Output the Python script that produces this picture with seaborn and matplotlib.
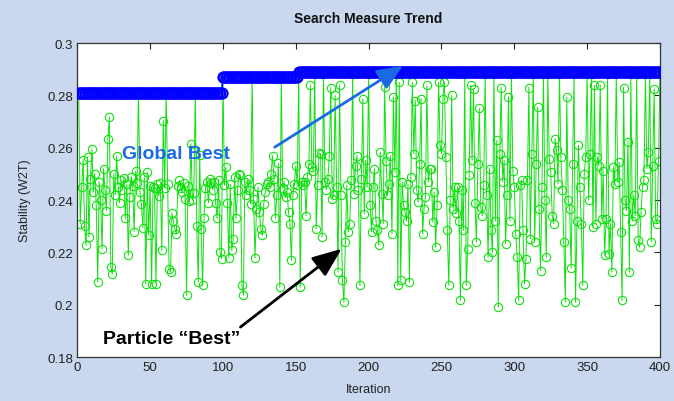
import numpy as np
import pandas as pd
import matplotlib
matplotlib.use("Agg")
import matplotlib.pyplot as plt
import seaborn as sns

# Stability (W2T) of the particle's own best at each iteration
particle_best = [
    0.2810, 0.2310, 0.2450, 0.2555, 0.2300, 0.2227, 0.2564, 0.2260, 0.2480, 0.2594,
    0.2430, 0.2500, 0.2380, 0.2087, 0.2470, 0.2400, 0.2214, 0.2520, 0.2440, 0.2360,
    0.2634, 0.2717, 0.2144, 0.2118, 0.2500, 0.2420, 0.2568, 0.2450, 0.2390, 0.2475,
    0.2440, 0.2485, 0.2330, 0.2460, 0.2189, 0.2410, 0.2490, 0.2455, 0.2280, 0.2510,
    0.2465, 0.2810, 0.2430, 0.2385, 0.2295, 0.2490, 0.2080, 0.2507, 0.2265, 0.2455,
    0.2080, 0.2450, 0.2445, 0.2080, 0.2460, 0.2415, 0.2465, 0.2208, 0.2704, 0.2448,
    0.2810, 0.2460, 0.2137, 0.2125, 0.2350, 0.2320, 0.2290, 0.2270, 0.2452, 0.2475,
    0.2445, 0.2430, 0.2465, 0.2405, 0.2036, 0.2455, 0.2395, 0.2615, 0.2400, 0.2428,
    0.2810, 0.2300, 0.2087, 0.2571, 0.2290, 0.2074, 0.2330, 0.2448, 0.2470, 0.2390,
    0.2482, 0.2465, 0.2440, 0.2470, 0.2390, 0.2330, 0.2478, 0.2200, 0.2176, 0.2870,
    0.2456, 0.2526, 0.2390, 0.2180, 0.2460, 0.2208, 0.2250, 0.2490, 0.2330, 0.2440,
    0.2500, 0.2494, 0.2074, 0.2036, 0.2470, 0.2420, 0.2480, 0.2437, 0.2386, 0.2870,
    0.2405, 0.2180, 0.2367, 0.2450, 0.2354, 0.2290, 0.2265, 0.2386, 0.2430, 0.2460,
    0.2470, 0.2450, 0.2500, 0.2570, 0.2480, 0.2330, 0.2420, 0.2540, 0.2067, 0.2870,
    0.2445, 0.2470, 0.2410, 0.2430, 0.2354, 0.2310, 0.2170, 0.2418, 0.2460, 0.2530,
    0.2456, 0.2890, 0.2067, 0.2470, 0.2456, 0.2470, 0.2341, 0.2490, 0.2539, 0.2838,
    0.2526, 0.2513, 0.2880, 0.2290, 0.2456, 0.2580, 0.2577, 0.2259, 0.2880, 0.2470,
    0.2440, 0.2480, 0.2570, 0.2830, 0.2405, 0.2420, 0.2800, 0.2450, 0.2125, 0.2838,
    0.2420, 0.2093, 0.2010, 0.2240, 0.2456, 0.2278, 0.2310, 0.2475, 0.2880, 0.2424,
    0.2530, 0.2570, 0.2440, 0.2074, 0.2480, 0.2787, 0.2348, 0.2552, 0.2450, 0.2880,
    0.2380, 0.2278, 0.2450, 0.2520, 0.2320, 0.2284, 0.2227, 0.2583, 0.2424, 0.2310,
    0.2832, 0.2550, 0.2418, 0.2460, 0.2570, 0.2271, 0.2794, 0.2507, 0.2880, 0.2074,
    0.2850, 0.2093, 0.2470, 0.2380, 0.2354, 0.2320, 0.2460, 0.2087, 0.2488, 0.2850,
    0.2577, 0.2780, 0.2440, 0.2392, 0.2539, 0.2787, 0.2271, 0.2367, 0.2411, 0.2838,
    0.2470, 0.2520, 0.2520, 0.2316, 0.2430, 0.2220, 0.2380, 0.2850, 0.2609, 0.2577,
    0.2787, 0.2850, 0.2564, 0.2284, 0.2074, 0.2400, 0.2800, 0.2367, 0.2450, 0.2350,
    0.2450, 0.2320, 0.2017, 0.2440, 0.2284, 0.2880, 0.2074, 0.2214, 0.2494, 0.2838,
    0.2552, 0.2825, 0.2390, 0.2240, 0.2539, 0.2750, 0.2373, 0.2340, 0.2456, 0.2880,
    0.2420, 0.2182, 0.2520, 0.2284, 0.2200, 0.2880, 0.2320, 0.2628, 0.1991, 0.2577,
    0.2830, 0.2470, 0.2552, 0.2233, 0.2418, 0.2794, 0.2320, 0.2880, 0.2513, 0.2450,
    0.2270, 0.2182, 0.2017, 0.2456, 0.2475, 0.2284, 0.2080, 0.2176, 0.2475, 0.2830,
    0.2252, 0.2577, 0.2880, 0.2240, 0.2539, 0.2755, 0.2367, 0.2131, 0.2450, 0.2880,
    0.2400, 0.2182, 0.2880, 0.2558, 0.2507, 0.2340, 0.2310, 0.2634, 0.2590, 0.2462,
    0.2880, 0.2564, 0.2440, 0.2240, 0.2010, 0.2794, 0.2400, 0.2367, 0.2140, 0.2539,
    0.2880, 0.2010, 0.2320, 0.2610, 0.2450, 0.2310, 0.2074, 0.2500, 0.2564, 0.2880,
    0.2400, 0.2577, 0.2880, 0.2297, 0.2838, 0.2310, 0.2564, 0.2532, 0.2838, 0.2328,
    0.2513, 0.2190, 0.2328, 0.2880, 0.2195, 0.2310, 0.2125, 0.2526, 0.2462, 0.2880,
    0.2470, 0.2545, 0.2278, 0.2017, 0.2830, 0.2400, 0.2360, 0.2622, 0.2125, 0.2880,
    0.2320, 0.2418, 0.2340, 0.2880, 0.2246, 0.2220, 0.2354, 0.2450, 0.2475, 0.2880,
    0.2520, 0.2583, 0.2880, 0.2240, 0.2532, 0.2825, 0.2328, 0.2310, 0.2550, 0.2890,
]

# Global best levels and how many iterations each one holds
global_levels = [0.281, 0.287, 0.289]
global_counts = [99, 52, 249]

iterations = np.arange(1, len(particle_best) + 1)
global_best = np.repeat(global_levels, global_counts)

df = pd.DataFrame({
    "Iteration": iterations,
    "particle": particle_best,
    "global": global_best,
})

sns.set_theme(style="white")
plt.rcParams["font.family"] = ["Liberation Sans", "DejaVu Sans"]
narrow = ["Liberation Sans Narrow", "Liberation Sans", "DejaVu Sans"]

fig = plt.figure(figsize=(6.74, 4.02), dpi=100)
fig.patch.set_facecolor("#c9d8ee")
ax = fig.add_axes([0.1147, 0.109, 0.8645, 0.7815])
ax.set_facecolor("white")

sns.lineplot(data=df, x="Iteration", y="particle", ax=ax, estimator=None,
             color="#10e010", linewidth=0.7, marker="o", markersize=6.0,
             markerfacecolor="none", markeredgecolor="#10e010",
             markeredgewidth=0.8, zorder=2)
sns.lineplot(data=df, x="Iteration", y="global", ax=ax, estimator=None,
             color="#0000ff", linewidth=1.2, marker="o", markersize=7.5,
             markerfacecolor="none", markeredgecolor="#0000ff",
             markeredgewidth=1.3, zorder=3)

ax.set_xlim(0, 400)
ax.set_ylim(0.18, 0.3)
ax.set_xticks(np.arange(0, 401, 50))
ax.set_yticks([0.18, 0.2, 0.22, 0.24, 0.26, 0.28, 0.3])
ax.set_yticklabels(["0.18", "0.2", "0.22", "0.24", "0.26", "0.28", "0.3"])
ax.tick_params(direction="in", length=4, width=0.8, top=True, right=True,
               labelsize=9.5, colors="#222222", pad=3)
for lbl in ax.get_xticklabels() + ax.get_yticklabels():
    lbl.set_family(narrow)
for side in ax.spines.values():
    side.set_color("#333333")
    side.set_linewidth(0.9)

ax.set_title("Search Measure Trend", fontsize=10, fontweight="bold",
             color="#111111", pad=15)
ax.set_xlabel("Iteration", fontsize=9, color="#222222", labelpad=7,
              family=narrow)
ax.set_ylabel("Stability (W2T)", fontsize=9, color="#222222", labelpad=12,
              family=narrow)

ax.annotate("", xy=(223.5, 0.2913), xytext=(135.5, 0.2602),
            arrowprops=dict(arrowstyle="-|>,head_length=1.3,head_width=0.55",
                            color="#1a6ae6", lw=2.0, shrinkA=0, shrinkB=0),
            zorder=5)
ax.text(31, 0.2577, "Global Best", color="#1a6ae6", fontsize=14,
        fontweight="bold", va="center", ha="left", zorder=6)

ax.annotate("", xy=(181.5, 0.2214), xytext=(112, 0.1915),
            arrowprops=dict(arrowstyle="-|>,head_length=1.5,head_width=0.6",
                            color="black", lw=2.0, shrinkA=0, shrinkB=0),
            zorder=5)
ax.text(17.5, 0.1872, "Particle \u201cBest\u201d", color="black", fontsize=14,
        fontweight="bold", va="center", ha="left", zorder=6)

fig.savefig("out.png", dpi=100, facecolor=fig.get_facecolor())
